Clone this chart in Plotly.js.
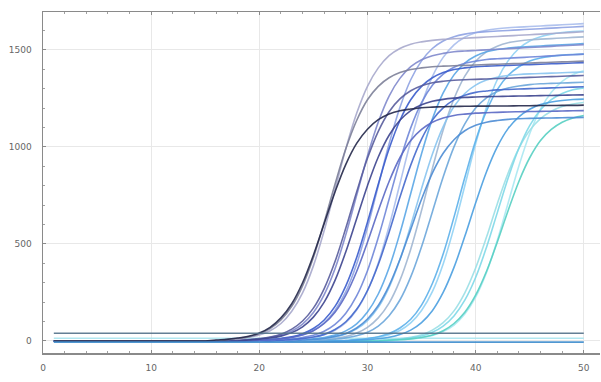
<!DOCTYPE html>
<html>
<head>
<meta charset="utf-8">
<script src="https://cdn.plot.ly/plotly-3.0.1.min.js"></script>
<style>html,body{margin:0;padding:0;background:#fff;}#chart{width:601px;height:382px;}</style>
</head>
<body>
<div id="chart"></div>
<script>
// Cycle numbers
var cycles = [1,2,3,4,5,6,7,8,9,10,11,12,13,14,15,16,17,18,19,20,21,22,23,24,25,26,27,28,29,30,31,32,33,34,35,36,37,38,39,40,41,42,43,44,45,46,47,48,49,50];

// Amplification curves (fluorescence per cycle)
var c01 = [0,0,0,0,0,0,0,0,0,0,0,0,0,0,0,5,8,15,24,41,70,119,192,300,442,605,768,910,1018,1091,1140,1169,1186,1195,1202,1205,1207,1208,1209,1210,1210,1211,1211,1212,1212,1213,1213,1214,1214,1215];
var c02 = [0,0,0,0,0,0,0,0,0,0,0,0,0,0,0,4,7,13,21,37,64,108,178,284,430,612,808,990,1136,1243,1312,1356,1383,1399,1407,1413,1416,1418,1420,1422,1424,1426,1428,1430,1432,1434,1436,1438,1440,1442];
var c03 = [0,0,0,0,0,0,0,0,0,0,0,0,0,0,0,0,6,11,19,31,53,90,153,248,387,569,780,991,1173,1312,1407,1470,1507,1529,1541,1549,1554,1557,1560,1563,1566,1569,1572,1575,1578,1581,1584,1587,1590,1593];
var c04 = [0,0,0,0,0,0,0,0,0,0,0,0,0,0,0,0,0,4,7,12,20,35,61,103,169,270,409,582,768,941,1080,1181,1247,1289,1315,1330,1338,1343,1346,1348,1350,1352,1354,1356,1358,1360,1362,1364,1366,1368];
var c05 = [0,0,0,0,0,0,0,0,0,0,0,0,0,0,0,0,0,0,6,10,18,30,51,87,147,239,372,548,750,953,1128,1262,1353,1413,1449,1470,1482,1490,1494,1497,1500,1503,1506,1509,1512,1515,1518,1521,1524,1527];
var c06 = [0,0,0,0,0,0,0,0,0,0,0,0,0,0,0,0,0,0,5,9,15,25,43,73,123,200,312,460,630,800,948,1060,1137,1187,1217,1235,1245,1251,1255,1257,1259,1260,1261,1262,1263,1264,1265,1266,1267,1268];
var c07 = [0,0,0,0,0,0,0,0,0,0,0,0,0,0,0,0,0,0,0,4,7,13,21,37,64,108,178,284,430,612,808,990,1136,1243,1312,1356,1383,1399,1407,1413,1416,1418,1420,1422,1424,1426,1428,1430,1432,1434];
var c08 = [0,0,0,0,0,0,0,0,0,0,0,0,0,0,0,0,0,0,0,0,6,11,19,32,54,93,157,254,397,584,800,1016,1203,1346,1443,1507,1546,1568,1581,1589,1594,1597,1600,1603,1606,1609,1612,1615,1618,1621];
var c09 = [0,0,0,0,0,0,0,0,0,0,0,0,0,0,0,0,0,0,0,4,6,11,18,31,53,90,148,236,358,509,671,822,944,1033,1090,1127,1149,1162,1169,1174,1176,1178,1180,1181,1182,1183,1184,1185,1186,1187];
var c10 = [0,0,0,0,0,0,0,0,0,0,0,0,0,0,0,0,0,0,0,0,0,6,10,18,29,50,85,143,232,362,533,730,927,1098,1228,1317,1375,1410,1431,1442,1450,1454,1457,1460,1463,1466,1469,1472,1475,1478];
var c11 = [0,0,0,0,0,0,0,0,0,0,0,0,0,0,0,0,0,0,0,0,0,4,7,12,20,34,59,99,163,260,394,560,740,906,1040,1138,1201,1242,1266,1281,1288,1294,1296,1298,1300,1302,1304,1306,1308,1310];
var c12 = [0,0,0,0,0,0,0,0,0,0,0,0,0,0,0,0,0,0,0,0,0,0,6,11,19,32,55,94,159,258,402,591,810,1029,1218,1362,1461,1526,1565,1588,1601,1609,1614,1617,1620,1623,1626,1629,1632,1635];
var c13 = [0,0,0,0,0,0,0,0,0,0,0,0,0,0,0,0,0,0,0,0,0,0,0,6,11,18,30,52,88,149,242,377,555,760,965,1143,1278,1371,1432,1468,1490,1502,1509,1514,1517,1520,1523,1526,1529,1532];
var c14 = [0,0,0,0,0,0,0,0,0,0,0,0,0,0,0,0,0,0,0,0,0,0,0,4,7,12,21,36,62,105,173,276,418,595,785,962,1104,1208,1275,1318,1344,1359,1368,1373,1376,1378,1380,1382,1384,1386];
var c15 = [0,0,0,0,0,0,0,0,0,0,0,0,0,0,0,0,0,0,0,0,0,0,0,5,8,13,23,39,67,113,183,285,420,575,730,865,967,1037,1083,1111,1127,1136,1142,1145,1147,1148,1149,1150,1151,1152];
var c16 = [0,0,0,0,0,0,0,0,0,0,0,0,0,0,0,0,0,0,0,0,0,0,0,0,5,8,14,23,41,70,119,195,312,473,672,888,1087,1248,1365,1441,1490,1519,1537,1546,1552,1555,1558,1561,1564,1567];
var c17 = [0,0,0,0,0,0,0,0,0,0,0,0,0,0,0,0,0,0,0,0,0,0,0,0,0,5,9,16,27,45,77,130,211,330,485,665,845,1000,1119,1200,1253,1285,1303,1314,1321,1325,1327,1329,1331,1333];
var c18 = [0,0,0,0,0,0,0,0,0,0,0,0,0,0,0,0,0,0,0,0,0,0,0,0,0,0,0,4,7,13,22,38,67,112,185,296,448,638,842,1032,1184,1295,1368,1413,1442,1458,1467,1473,1476,1478];
var c19 = [0,0,0,0,0,0,0,0,0,0,0,0,0,0,0,0,0,0,0,0,0,0,0,0,0,0,0,0,6,11,19,32,54,93,157,254,397,584,800,1016,1203,1346,1443,1507,1546,1568,1581,1589,1594,1597];
var c20 = [0,0,0,0,0,0,0,0,0,0,0,0,0,0,0,0,0,0,0,0,0,0,0,0,0,0,0,0,4,6,11,19,33,56,95,156,250,379,539,711,871,1000,1094,1155,1194,1218,1231,1239,1244,1246];
var c21 = [0,0,0,0,0,0,0,0,0,0,0,0,0,0,0,0,0,0,0,0,0,0,0,0,0,0,0,0,0,0,0,5,9,16,26,45,77,129,210,327,482,660,838,993,1110,1191,1243,1275,1294,1304];
var c22 = [0,0,0,0,0,0,0,0,0,0,0,0,0,0,0,0,0,0,0,0,0,0,0,0,0,0,0,0,0,0,0,4,6,11,18,31,53,90,148,236,358,509,671,822,944,1033,1090,1127,1149,1162];
var c23 = [0,0,0,0,0,0,0,0,0,0,0,0,0,0,0,0,0,0,0,0,0,0,0,0,0,0,0,0,0,0,0,0,6,10,17,28,48,82,139,226,352,518,710,902,1068,1194,1281,1338,1372,1392];
var c24 = [0,0,0,0,0,0,0,0,0,0,0,0,0,0,0,0,0,0,0,0,0,0,0,0,0,0,0,0,0,0,4,6,11,19,32,56,94,155,248,376,534,706,864,992,1085,1146,1184,1208,1221,1229];

// Flat (no amplification) traces
var ntcHigh = [40,40,40,40,40,40,40,40,40,40,40,40,40,40,40,40,40,40,40,40,40,40,40,40,40,40,40,40,40,40,40,40,40,40,40,40,40,40,40,40,40,40,40,40,40,40,40,40,40,40];
var ntcMid  = [14,14,14,14,14,14,14,14,14,14,14,14,14,14,14,14,14,14,14,14,14,14,14,14,14,14,14,14,14,14,14,14,14,14,14,14,14,14,14,14,14,14,14,14,14,14,14,14,14,14];
var ntcLow  = [-6,-6,-6,-6,-6,-6,-6,-6,-6,-6,-6,-6,-6,-6,-6,-6,-6,-6,-6,-6,-6,-6,-6,-6,-6,-6,-6,-6,-6,-6,-6,-6,-6,-6,-6,-6,-6,-6,-6,-6,-6,-6,-6,-6,-6,-6,-6,-6,-6,-6];

var xTicks = [0, 10, 20, 30, 40, 50];
var xTickText = ['0', '10', '20', '30', '40', '50'];
var yTicks = [0, 500, 1000, 1500];
var yTickText = ['0', '500', '1000', '1500'];

// draw order: light first, dark last
var series = [
  {y: ntcMid,  color: '#a8e4ee'},
  {y: c23, color: '#a8e8f2'},
  {y: c24, color: '#9adfe6'},
  {y: c21, color: '#7ed8e8'},
  {y: c22, color: '#56cfc2'},
  {y: c19, color: '#90d2f4'},
  {y: c18, color: '#5cb0ea'},
  {y: c20, color: '#4a9ee0'},
  {y: c16, color: '#a0b6d2'},
  {y: c17, color: '#6ca6da'},
  {y: c14, color: '#88c4f0'},
  {y: c13, color: '#5aa6e6'},
  {y: c15, color: '#4c8cd4'},
  {y: c12, color: '#a8bcec'},
  {y: c10, color: '#6f86d8'},
  {y: c11, color: '#4468cc'},
  {y: c08, color: '#8ea2e2'},
  {y: c07, color: '#3a5ccc'},
  {y: c09, color: '#5a68c4'},
  {y: c03, color: '#a7a9cc'},
  {y: c05, color: '#8088cc'},
  {y: c04, color: '#585c9c'},
  {y: c06, color: '#3c448e'},
  {y: c02, color: '#7c7f98'},
  {y: c01, color: '#23284a'},
  {y: ntcLow,  color: '#3d8ccc'},
  {y: ntcHigh, color: '#52718a'}
];

var traces = series.map(function (s) {
  return {
    x: cycles, y: s.y, type: 'scatter', mode: 'lines',
    line: {color: s.color, width: 1.6, shape: 'spline'},
    opacity: 0.9, hoverinfo: 'skip', showlegend: false
  };
});

var layout = {
  width: 601, height: 382,
  margin: {l: 43, r: 1, t: 12, b: 29},
  paper_bgcolor: '#ffffff', plot_bgcolor: '#ffffff',
  showlegend: false,
  xaxis: {
    range: [0, 51.5], tickvals: xTicks, ticktext: xTickText,
    showgrid: true, gridcolor: '#e8e8e8', gridwidth: 1,
    zeroline: false, showline: true, linecolor: '#8a8a8a', linewidth: 1.5,
    mirror: 'ticks', ticks: 'inside', ticklen: 3, tickcolor: '#8a8a8a',
    minor: {dtick: 2, ticks: 'inside', ticklen: 2, tickcolor: '#a0a0a0', showgrid: false},
    tickfont: {family: 'DejaVu Sans', size: 9, color: '#666666'},
    ticklabelstandoff: 6
  },
  yaxis: {
    range: [-62, 1695], tickvals: yTicks, ticktext: yTickText,
    showgrid: true, gridcolor: '#e8e8e8', gridwidth: 1,
    zeroline: false, showline: true, linecolor: '#8a8a8a', linewidth: 1.5,
    ticks: 'inside', ticklen: 3, tickcolor: '#8a8a8a',
    minor: {dtick: 100, ticks: 'inside', ticklen: 2, tickcolor: '#a0a0a0', showgrid: false},
    tickfont: {family: 'DejaVu Sans', size: 9, color: '#666666'},
    ticklabelstandoff: 8
  }
};

Plotly.newPlot('chart', traces, layout, {staticPlot: true, displayModeBar: false});
</script>
</body>
</html>
